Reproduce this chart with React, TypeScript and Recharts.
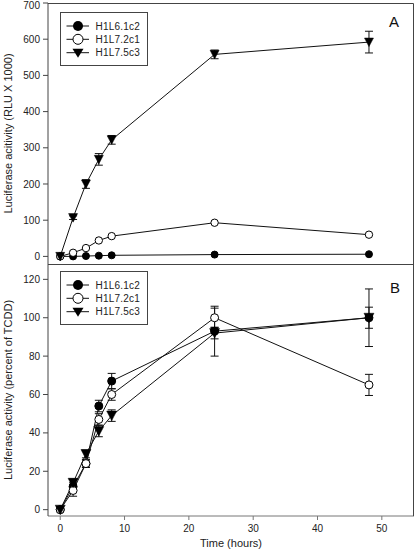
import { LineChart, Line, XAxis, YAxis, ErrorBar } from 'recharts'

// sampling times (hours)
const hours = [0, 2, 4, 6, 8, 24, 48]

// panel A: RLU x 1000 (no visible error bars on the two lower series)
const a61 = [0, 0, 1, 2, 3, 5, 6]
const a72 = [0, 10, 23, 44, 56, 93, 60]
const a75 = [0, 107, 200, 268, 322, 558, 592]
const a75Err = [0, 5, 12, 16, 12, 12, 30]

// panel B: percent of TCDD
const b61 = [0, 12, 24, 54, 67, 93, 100]
const b61Err = [0, 2, 2, 3, 4, 13, 15]
const b72 = [0, 10, 24, 47, 60, 100, 65]
const b72Err = [0, 3, 2, 3, 3, 5, 5.5]
const b75 = [0, 14, 29, 41, 49, 92, 100]
const b75Err = [0, 2, 2, 3, 3, 3, 5.5]

const seriesNames = ['H1L6.1c2', 'H1L7.2c1', 'H1L7.5c3']
const aTicks = [0, 100, 200, 300, 400, 500, 600, 700]
const bTicks = [0, 20, 40, 60, 80, 100, 120]
const xTicks = [0, 10, 20, 30, 40, 50]

const X_DOMAIN: [number, number] = [-1.9, 55]
const A_DOMAIN: [number, number] = [-21, 700]
const B_DOMAIN: [number, number] = [-3.3, 128]

const FONT = '"Liberation Sans", Arial, sans-serif'
const FRAME = '#444'
const LINE = '#111'

const dataA = hours.map((t, i) => ({ t, s1: a61[i], s2: a72[i], s3: a75[i], e3: a75Err[i] }))
const dataB = hours.map((t, i) => ({
  t, s1: b61[i], e1: b61Err[i], s2: b72[i], e2: b72Err[i], s3: b75[i], e3: b75Err[i],
}))

function circleDot(fill: string, r: number) {
  return (p: any) => (
    <circle key={`c-${fill}-${p.index}`} cx={p.cx} cy={p.cy} r={r} fill={fill} stroke="#000" strokeWidth={1} />
  )
}

function triangleDot(w: number) {
  return (p: any) => {
    const { cx, cy } = p
    const h = w * 0.45
    return (
      <polygon
        key={`t-${p.index}`}
        points={`${cx - w / 2},${cy - h} ${cx + w / 2},${cy - h} ${cx},${cy + w * 0.5}`}
        fill="#000"
        stroke="#000"
        strokeWidth={0.5}
      />
    )
  }
}

function LegendBox({ left, top }: { left: number; top: number }) {
  const rowY = [14, 27.3, 40.7]
  return (
    <svg width={88} height={54} style={{ position: 'absolute', left, top }}>
      <rect x={0.5} y={0.5} width={87} height={53} fill="#fff" stroke={FRAME} />
      {seriesNames.map((name, i) => {
        const y = rowY[i]
        return (
          <g key={name}>
            <line x1={6.5} x2={29} y1={y} y2={y} stroke={LINE} strokeWidth={1} />
            {i === 0 && <circle cx={18} cy={y} r={5} fill="#000" />}
            {i === 1 && <circle cx={18} cy={y} r={5} fill="#fff" stroke="#000" />}
            {i === 2 && <polygon points={`${12.5},${y - 4} ${23.5},${y - 4} ${18},${y + 5}`} fill="#000" />}
            <text x={35.5} y={y + 3.6} fontSize={10} fontFamily={FONT} fill="#222" letterSpacing={0.2}>{name}</text>
          </g>
        )
      })}
    </svg>
  )
}

const tickStyle = { fill: '#222', fontSize: 10, fontFamily: FONT }
const labelStyle = { fontSize: 11, fontFamily: FONT, fill: '#222' }

export default function App() {
  return (
    <div style={{ position: 'absolute', left: 0, top: 0, width: 415, height: 559, background: '#fff', fontFamily: FONT }}>
      {/* panel A */}
      <div style={{ position: 'absolute', left: 0, top: 0 }}>
        <LineChart width={415} height={265} data={dataA} margin={{ top: 3, right: 1, bottom: 1, left: 0 }}>
          <XAxis type="number" dataKey="t" domain={X_DOMAIN} allowDataOverflow hide />
          <YAxis
            type="number"
            domain={A_DOMAIN}
            allowDataOverflow
            ticks={aTicks}
            width={48}
            tickSize={5}
            tickMargin={3}
            tick={tickStyle}
            axisLine={{ stroke: FRAME }}
            tickLine={{ stroke: FRAME }}
            label={{ value: 'Luciferase acitivity (RLU X 1000)', angle: -90, position: 'center', dx: -16, style: labelStyle }}
          />
          <Line dataKey="s1" stroke={LINE} strokeWidth={1} dot={circleDot('#000', 3.5)} isAnimationActive={false} />
          <Line dataKey="s2" stroke={LINE} strokeWidth={1} dot={circleDot('#fff', 3.7)} isAnimationActive={false} />
          <Line dataKey="s3" stroke={LINE} strokeWidth={1} dot={triangleDot(9)} isAnimationActive={false}>
            <ErrorBar dataKey="e3" direction="y" width={4} stroke={LINE} strokeWidth={1} />
          </Line>
        </LineChart>
      </div>

      {/* panel B */}
      <div style={{ position: 'absolute', left: 0, top: 263 }}>
        <LineChart width={415} height={296} data={dataB} margin={{ top: 1, right: 1, bottom: 0, left: 0 }}>
          <XAxis
            type="number"
            dataKey="t"
            domain={X_DOMAIN}
            allowDataOverflow
            ticks={xTicks}
            height={43}
            tickSize={4}
            tickMargin={5}
            tick={tickStyle}
            axisLine={{ stroke: '#777' }}
            tickLine={{ stroke: '#777' }}
            label={{ value: 'Time (hours)', position: 'insideBottom', offset: 12, style: labelStyle }}
          />
          <YAxis
            type="number"
            domain={B_DOMAIN}
            allowDataOverflow
            ticks={bTicks}
            width={48}
            tickSize={5}
            tickMargin={3}
            tick={tickStyle}
            axisLine={{ stroke: FRAME }}
            tickLine={{ stroke: FRAME }}
            label={{ value: 'Luciferase activity (percent of TCDD)', angle: -90, position: 'center', dx: -16, style: labelStyle }}
          />
          <Line dataKey="s1" stroke={LINE} strokeWidth={1} dot={circleDot('#000', 4)} isAnimationActive={false}>
            <ErrorBar dataKey="e1" direction="y" width={4} stroke={LINE} strokeWidth={1} />
          </Line>
          <Line dataKey="s2" stroke={LINE} strokeWidth={1} dot={circleDot('#fff', 4)} isAnimationActive={false}>
            <ErrorBar dataKey="e2" direction="y" width={4} stroke={LINE} strokeWidth={1} />
          </Line>
          <Line dataKey="s3" stroke={LINE} strokeWidth={1} dot={triangleDot(10)} isAnimationActive={false}>
            <ErrorBar dataKey="e3" direction="y" width={4} stroke={LINE} strokeWidth={1} />
          </Line>
        </LineChart>
      </div>

      {/* plot frames (top, right, shared middle line) */}
      <svg width={415} height={559} style={{ position: 'absolute', left: 0, top: 0, pointerEvents: 'none' }}>
        <polyline points="48,3.5 413.5,3.5 413.5,516" fill="none" stroke={FRAME} strokeWidth={1} />
        <line x1={48} x2={414} y1={264.5} y2={264.5} stroke={FRAME} strokeWidth={1} />
      </svg>

      <LegendBox left={60} top={12} />
      <LegendBox left={60} top={271} />

      <div style={{ position: 'absolute', left: 389, top: 14, fontSize: 15, lineHeight: '15px', color: '#111' }}>A</div>
      <div style={{ position: 'absolute', left: 390, top: 280, fontSize: 15, lineHeight: '15px', color: '#111' }}>B</div>
    </div>
  )
}
